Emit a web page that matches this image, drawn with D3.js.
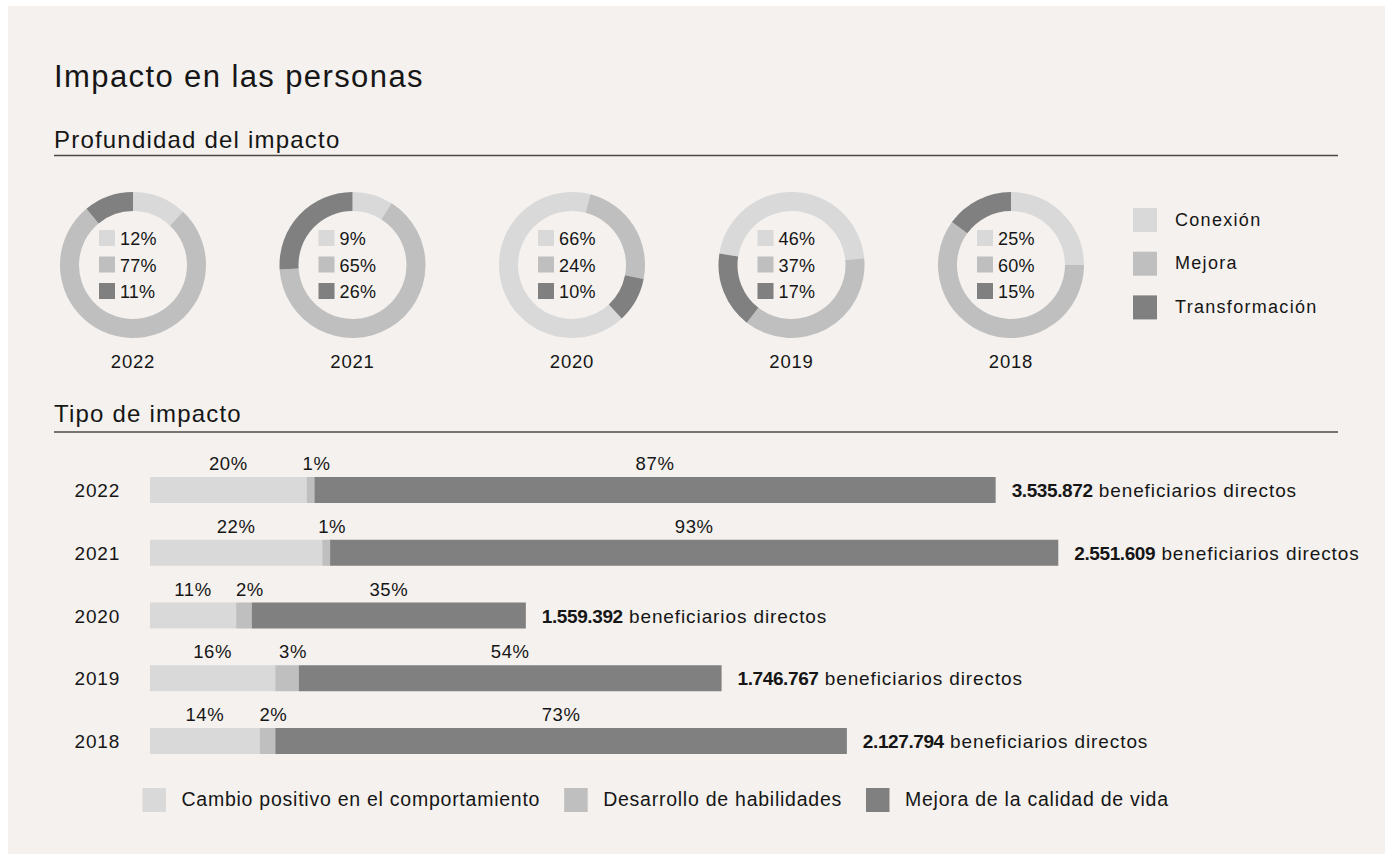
<!DOCTYPE html>
<html>
<head>
<meta charset="utf-8">
<script src="https://cdn.jsdelivr.net/npm/d3@7"></script>
<style>
  html, body { margin: 0; padding: 0; background: #ffffff; }
  svg { display: block; font-family: "Liberation Sans", Arial, Helvetica, sans-serif; }
  text { fill: #161616; }
</style>
</head>
<body>
<svg id="chart" width="1390" height="854"></svg>
<script>
// ---------- DATA ----------
const donutYears = ["2022", "2021", "2020", "2019", "2018"];
const donutCategories = ["Conexión", "Mejora", "Transformación"];
const conexion = [12, 9, 66, 46, 25];
const mejora = [77, 65, 24, 37, 60];
const transformacion = [11, 26, 10, 17, 15];
const donutRotationDeg = [0, 0, 137, -81, 0];

const barYears = ["2022", "2021", "2020", "2019", "2018"];
const barCategories = ["Cambio positivo en el comportamiento", "Desarrollo de habilidades", "Mejora de la calidad de vida"];
const cambioPositivo = [20, 22, 11, 16, 14];
const desarrolloHabilidades = [1, 1, 2, 3, 2];
const mejoraCalidad = [87, 93, 35, 54, 73];
const beneficiarios = [3535872, 2551609, 1559392, 1746767, 2127794];

const titleText = "Impacto en las personas";
const section1Text = "Profundidad del impacto";
const section2Text = "Tipo de impacto";
const beneficiariosText = "beneficiarios directos";

// ---------- STYLE ----------
const colors = ["#d9d9d9", "#bfbfbf", "#808080"];
const svg = d3.select("#chart");
const esLocale = d3.formatLocale({ decimal: ",", thousands: ".", grouping: [3], currency: ["", " €"] });
const fmtNum = esLocale.format(",d");

// card background
svg.append("rect").attr("x", 8).attr("y", 6).attr("width", 1377).attr("height", 848).attr("fill", "#f4f1ee");

// title + section headings
svg.append("text").attr("x", 54).attr("y", 87).attr("font-size", 31).attr("letter-spacing", 1.4).text(titleText);
svg.append("text").attr("x", 54).attr("y", 148).attr("font-size", 24).attr("letter-spacing", 1.2).text(section1Text);
svg.append("line").attr("x1", 54).attr("x2", 1338).attr("y1", 155.5).attr("y2", 155.5).attr("stroke", "#4a4a4a").attr("stroke-width", 1.5);
svg.append("text").attr("x", 54).attr("y", 422).attr("font-size", 24).attr("letter-spacing", 1.2).text(section2Text);
svg.append("line").attr("x1", 54).attr("x2", 1338).attr("y1", 432).attr("y2", 432).attr("stroke", "#4a4a4a").attr("stroke-width", 1.5);

// ---------- DONUTS ----------
const donutX = d3.scalePoint().domain(donutYears).range([133, 1011]);
const donutCY = 265;
const arc = d3.arc().innerRadius(54).outerRadius(73);
const color = d3.scaleOrdinal().domain(d3.range(3)).range(colors);

donutYears.forEach((yr, i) => {
  const vals = [conexion[i], mejora[i], transformacion[i]];
  const start = donutRotationDeg[i] * Math.PI / 180;
  const pie = d3.pie().sort(null).startAngle(start).endAngle(start + 2 * Math.PI);
  const g = svg.append("g").attr("transform", `translate(${donutX(yr)},${donutCY})`);
  g.selectAll("path").data(pie(vals)).join("path")
    .attr("d", arc).attr("fill", (d, k) => color(k));
  const rows = g.selectAll("g.row").data(vals).join("g").attr("class", "row")
    .attr("transform", (d, k) => `translate(-34,${-35 + k * 26.5})`);
  rows.append("rect").attr("width", 16).attr("height", 16).attr("fill", (d, k) => color(k));
  rows.append("text").attr("x", 21).attr("y", 15).attr("font-size", 18).attr("letter-spacing", 0.2)
    .text(d => d + "%");
  g.append("text").attr("y", 103).attr("text-anchor", "middle").attr("font-size", 18.5).attr("letter-spacing", 0.8).text(yr);
});

// donut legend
const dLeg = svg.append("g").attr("transform", "translate(1133,208)");
const dLegRows = dLeg.selectAll("g").data(donutCategories).join("g")
  .attr("transform", (d, k) => `translate(0,${k * 43.7})`);
dLegRows.append("rect").attr("width", 24).attr("height", 24).attr("fill", (d, k) => color(k));
dLegRows.append("text").attr("x", 42).attr("y", 17.5).attr("font-size", 18).attr("letter-spacing", 1.3).text(d => d);

// ---------- BARS ----------
const x = d3.scaleLinear().domain([0, 100]).range([150, 933]);
const yC = d3.scalePoint().domain(barYears).range([490, 741]);
const barH = 26;

const rowsData = barYears.map((yr, i) => {
  const vals = [cambioPositivo[i], desarrolloHabilidades[i], mejoraCalidad[i]];
  let acc = 0;
  const segs = vals.map((v, k) => { const s = { k, v, x0: acc, x1: acc + v }; acc += v; return s; });
  return { yr, segs, total: acc, ben: beneficiarios[i] };
});

const bRows = svg.selectAll("g.bar").data(rowsData).join("g").attr("class", "bar")
  .attr("transform", d => `translate(0,${yC(d.yr)})`);

bRows.selectAll("rect").data(d => d.segs).join("rect")
  .attr("x", s => x(s.x0)).attr("width", s => x(s.x1) - x(s.x0))
  .attr("y", -barH / 2).attr("height", barH).attr("fill", s => colors[s.k]);

bRows.selectAll("text.pct").data(d => d.segs).join("text").attr("class", "pct")
  .attr("x", s => (x(s.x0) + x(s.x1)) / 2 + (s.k === 1 ? 6 : 0))
  .attr("y", -barH / 2 - 7).attr("text-anchor", "middle")
  .attr("font-size", 18.5).attr("letter-spacing", 0.6)
  .text(s => s.v + "%");

bRows.append("text").attr("x", 120).attr("y", 7).attr("text-anchor", "end")
  .attr("font-size", 19).attr("letter-spacing", 0.8).text(d => d.yr);

const vt = bRows.append("text").attr("x", d => x(d.total) + 16).attr("y", 7).attr("font-size", 19);
vt.append("tspan").attr("font-weight", 700).attr("letter-spacing", -0.4).text(d => fmtNum(d.ben));
vt.append("tspan").attr("letter-spacing", 0.9).text(" " + beneficiariosText);

// bottom legend
const bLeg = svg.append("g").attr("transform", "translate(142.5,788)");
let cursor = 0;
barCategories.forEach((c, k) => {
  const g = bLeg.append("g").attr("transform", `translate(${cursor},0)`);
  g.append("rect").attr("width", 23.5).attr("height", 24).attr("fill", colors[k]);
  const t = g.append("text").attr("x", 39).attr("y", 18).attr("font-size", 19.5).attr("letter-spacing", 0.75).text(c);
  cursor += 39 + t.node().getComputedTextLength() + 24;
});
</script>
</body>
</html>
